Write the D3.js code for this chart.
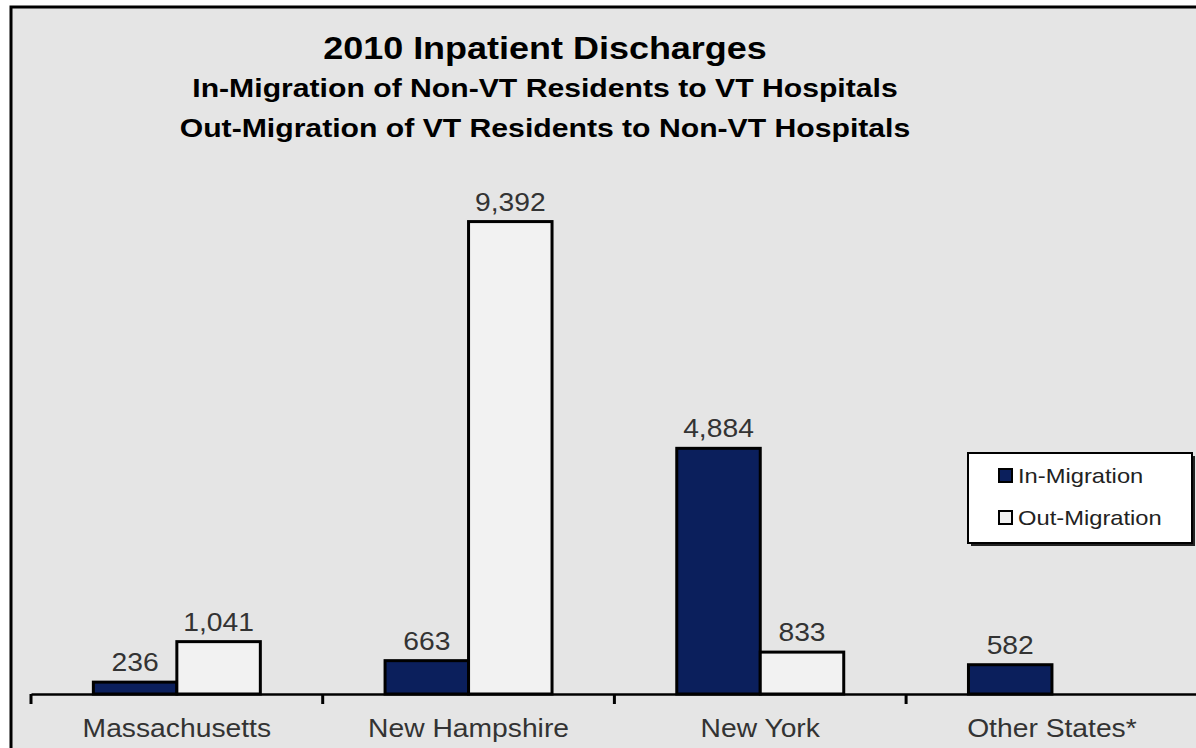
<!DOCTYPE html>
<html>
<head>
<meta charset="utf-8">
<script src="https://cdn.jsdelivr.net/npm/d3@7"></script>
<style>
  html, body { margin: 0; padding: 0; background: #fff; }
  svg { display: block; font-family: Arial, "Liberation Sans", sans-serif; }
</style>
</head>
<body>
<div id="chart"></div>
<script>
// Data
const categories = ['Massachusetts', 'New Hampshire', 'New York', 'Other States*'];
const seriesNames = ['In-Migration', 'Out-Migration'];
const inMigration = [236, 663, 4884, 582];
const outMigration = [1041, 9392, 833, null];
const titleLines = [
    '2010 Inpatient Discharges',
    'In-Migration of Non-VT Residents to VT Hospitals',
    'Out-Migration of VT Residents to Non-VT Hospitals'
];

const width = 1196;
const height = 748;
const margin = {top: 191, left: 31, bottom: 54};
const navy = '#0b1f5c';
const light = '#f2f2f2';
const hstretch = 1.13; // the source image is a bit wider than tall

const svg = d3.select('#chart')
    .append('svg')
    .attr('width', width)
    .attr('height', height);

// Frame: grey plate, thick black edge on top and left
svg.append('rect')
    .attr('x', 11).attr('y', 7)
    .attr('width', width + 20).attr('height', height + 20)
    .attr('fill', '#e5e5e5')
    .attr('stroke', '#000')
    .attr('stroke-width', 3);

const baseY = height - margin.bottom;

const x0 = d3.scaleBand()
    .domain(categories)
    .range([margin.left, margin.left + 4 * 291.7])
    .padding(0);

const x1 = d3.scaleBand()
    .domain(seriesNames)
    .range([0, x0.bandwidth()])
    .paddingInner(0)
    .paddingOuter(0.747);

const y = d3.scaleLinear()
    .domain([0, 10000])
    .range([baseY, margin.top]);

const color = d3.scaleOrdinal().domain(seriesNames).range([navy, light]);

// stretch text horizontally to match the source proportions
function stretch(sel, k = hstretch) {
    sel.each(function() {
        const w = this.getComputedTextLength();
        d3.select(this)
            .attr('textLength', w * k)
            .attr('lengthAdjust', 'spacingAndGlyphs');
    });
}

// Title
const titleSizes = [31, 26, 26];
const titleBase = [59, 97, 137];
svg.append('g')
    .selectAll('text')
    .data(titleLines)
    .join('text')
    .attr('x', 545)
    .attr('y', (d, i) => titleBase[i])
    .attr('text-anchor', 'middle')
    .attr('font-weight', 'bold')
    .attr('font-size', (d, i) => titleSizes[i])
    .attr('fill', '#000')
    .text(d => d)
    .call(stretch, 1.16);

// Bars
const rows = categories.map((c, i) => ({
    category: c,
    values: [
        {series: seriesNames[0], value: inMigration[i]},
        {series: seriesNames[1], value: outMigration[i]}
    ].filter(v => v.value != null)
}));

const groups = svg.append('g')
    .selectAll('g')
    .data(rows)
    .join('g')
    .attr('transform', d => `translate(${x0(d.category)},0)`);

groups.selectAll('rect')
    .data(d => d.values)
    .join('rect')
    .attr('x', d => x1(d.series))
    .attr('y', d => y(d.value))
    .attr('width', x1.bandwidth())
    .attr('height', d => baseY - y(d.value))
    .attr('fill', d => color(d.series))
    .attr('stroke', '#000')
    .attr('stroke-width', 3);

groups.selectAll('text')
    .data(d => d.values)
    .join('text')
    .attr('x', d => x1(d.series) + x1.bandwidth() / 2)
    .attr('y', d => y(d.value) - 11)
    .attr('text-anchor', 'middle')
    .attr('font-size', 25)
    .attr('fill', '#333')
    .text(d => d3.format(',')(d.value))
    .call(stretch);

// Category axis
const axis = svg.append('g')
    .attr('transform', `translate(0,${baseY})`)
    .call(d3.axisBottom(x0).tickSize(0).tickFormat(''));
axis.select('.domain').attr('stroke', '#000').attr('stroke-width', 2.5);

axis.selectAll('line.sep')
    .data(categories)
    .join('line')
    .attr('class', 'sep')
    .attr('x1', d => x0(d)).attr('x2', d => x0(d))
    .attr('y1', 0).attr('y2', 10)
    .attr('stroke', '#000')
    .attr('stroke-width', 3);

axis.selectAll('text.cat')
    .data(categories)
    .join('text')
    .attr('class', 'cat')
    .attr('x', d => x0(d) + x0.bandwidth() / 2)
    .attr('y', 43)
    .attr('text-anchor', 'middle')
    .attr('font-size', 25)
    .attr('fill', '#333')
    .text(d => d)
    .call(stretch);

// Legend
const legend = svg.append('g').attr('transform', 'translate(968,453)');
legend.append('rect')
    .attr('x', 3).attr('y', 3)
    .attr('width', 224).attr('height', 90)
    .attr('fill', '#222');
legend.append('rect')
    .attr('width', 224).attr('height', 90)
    .attr('fill', '#fff')
    .attr('stroke', '#000')
    .attr('stroke-width', 2);

const items = legend.selectAll('g.item')
    .data(seriesNames)
    .join('g')
    .attr('class', 'item')
    .attr('transform', (d, i) => `translate(31,${30 + i * 42})`);

items.append('rect')
    .attr('x', 0).attr('y', -14)
    .attr('width', 13).attr('height', 13)
    .attr('fill', d => color(d))
    .attr('stroke', '#000')
    .attr('stroke-width', 2);

items.append('text')
    .attr('x', 19)
    .attr('y', 0)
    .attr('font-size', 21)
    .attr('fill', '#222')
    .text(d => d)
    .call(stretch);
</script>
</body>
</html>
